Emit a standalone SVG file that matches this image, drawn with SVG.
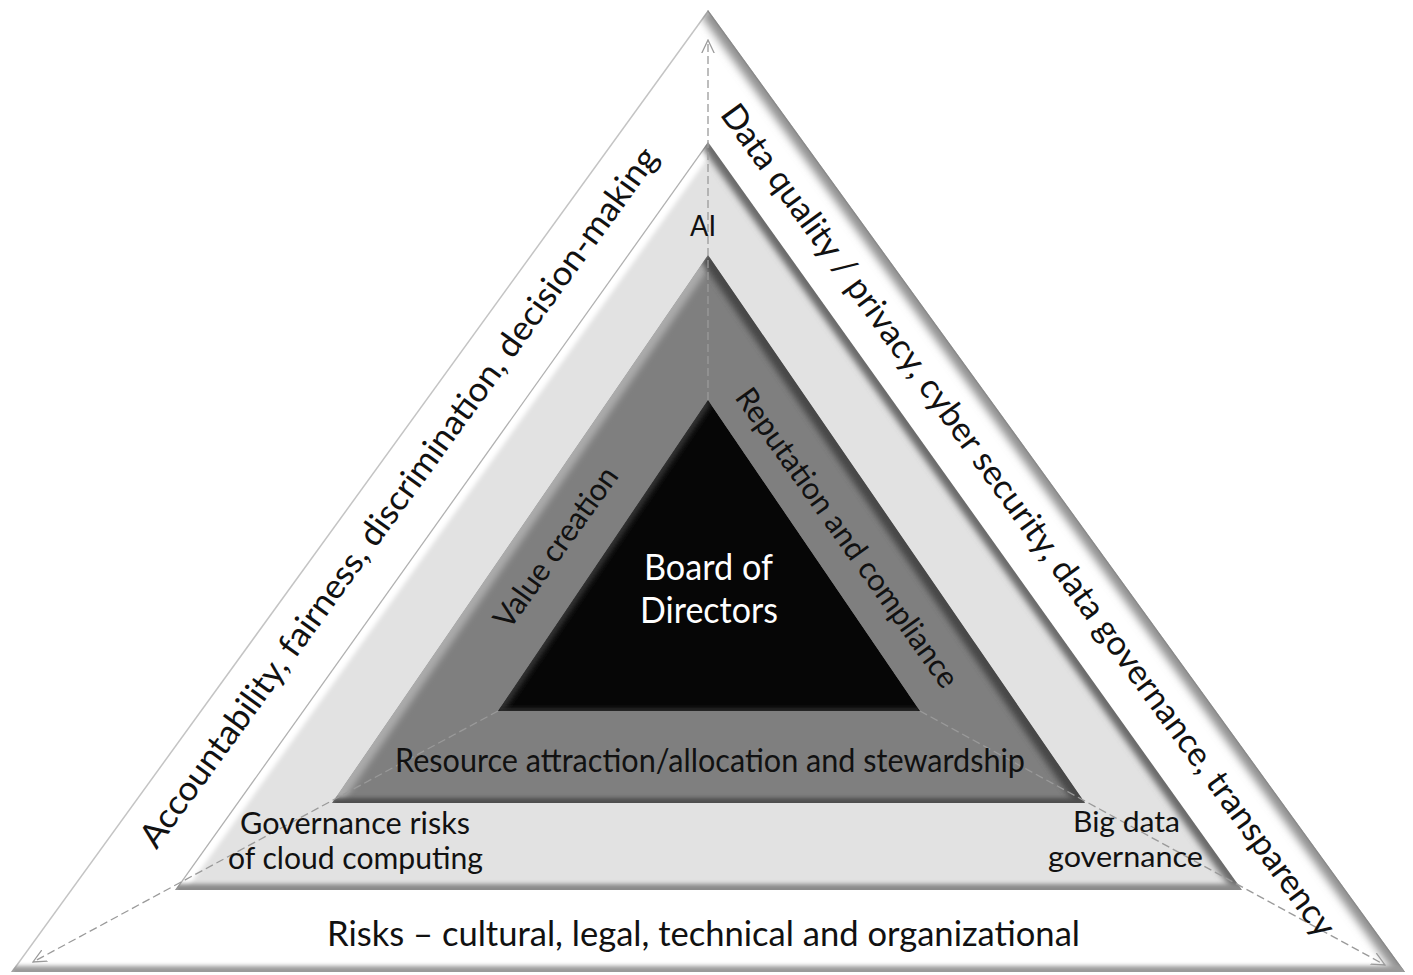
<svg xmlns="http://www.w3.org/2000/svg" width="1413" height="975" viewBox="0 0 1413 975">
<style>
text{font-family:Lato,"Liberation Sans",sans-serif;fill:#111}
.w{fill:#fff}
.dash{fill:none;stroke:#9a9a9a;stroke-width:1.3;stroke-dasharray:8 4}
</style>
<defs>
<filter id="bl2" filterUnits="userSpaceOnUse" x="0" y="0" width="1413" height="975"><feGaussianBlur stdDeviation="2"/></filter>
<filter id="bl3" filterUnits="userSpaceOnUse" x="0" y="0" width="1413" height="975"><feGaussianBlur stdDeviation="3"/></filter>
<filter id="bl4" filterUnits="userSpaceOnUse" x="0" y="0" width="1413" height="975"><feGaussianBlur stdDeviation="4"/></filter>
<clipPath id="cp1"><polygon points="708,10 11,972 1405,972"/></clipPath>
<clipPath id="cp2"><polygon points="708,142 175,890 1242,890"/></clipPath>
<clipPath id="cp3"><polygon points="708,255 332,803 1085,803"/></clipPath>
<clipPath id="cp4"><polygon points="708,400 498,711 920,711"/></clipPath>
<marker id="arr" viewBox="0 0 10 10" refX="9.5" refY="5" markerWidth="14" markerHeight="14" markerUnits="userSpaceOnUse" orient="auto">
<path d="M0,0.5 L9.5,5 L0,9.5" fill="none" stroke="#9a9a9a" stroke-width="0.9"/>
</marker>
</defs>
<rect width="1413" height="975" fill="#fff"/>

<g id="risks-layer" clip-path="url(#cp1)">
<polygon points="708,10 11,972 1405,972" fill="#fff"/>
<line x1="708" y1="10" x2="11" y2="972" stroke="#c4c4c4" stroke-width="3"/>
<line x1="708" y1="10" x2="1405" y2="972" stroke="#909090" stroke-width="18" filter="url(#bl4)"/>
<line x1="708" y1="10" x2="1405" y2="972" stroke="#8a8a8a" stroke-width="2.5"/>
<line x1="11" y1="972" x2="1405" y2="972" stroke="#9a9a9a" stroke-width="12" filter="url(#bl2)"/>
</g>

<g id="ai-layer" clip-path="url(#cp2)">
<polygon points="708,142 175,890 1242,890" fill="#e2e2e2"/>
<line x1="708" y1="142" x2="175" y2="890" stroke="#ffffff" stroke-width="18" filter="url(#bl2)"/>
<line x1="708" y1="142" x2="175" y2="890" stroke="#b0b0b0" stroke-width="2.5"/>
<line x1="708" y1="142" x2="1242" y2="890" stroke="#6a6a6a" stroke-width="16" filter="url(#bl3)"/>
<line x1="175" y1="890" x2="1242" y2="890" stroke="#8a8a8a" stroke-width="12" filter="url(#bl2)"/>
</g>

<g id="value-layer" clip-path="url(#cp3)">
<polygon points="708,255 332,803 1085,803" fill="#7f7f7f"/>
<line x1="708" y1="255" x2="332" y2="803" stroke="#ababab" stroke-width="16" filter="url(#bl3)"/>
<line x1="708" y1="255" x2="1085" y2="803" stroke="#474747" stroke-width="18" filter="url(#bl3)"/>
<line x1="332" y1="803" x2="1085" y2="803" stroke="#4e4e4e" stroke-width="10" filter="url(#bl2)"/>
</g>

<g id="board" clip-path="url(#cp4)">
<polygon points="708,400 498,711 920,711" fill="#060606"/>
<line x1="708" y1="400" x2="498" y2="711" stroke="#3a3a3a" stroke-width="8" filter="url(#bl3)"/>
<line x1="498" y1="711" x2="920" y2="711" stroke="#2c2c2c" stroke-width="6" filter="url(#bl2)"/>
</g>

<g id="connectors">
<line class="dash" x1="708" y1="400" x2="708" y2="40" marker-end="url(#arr)"/>
<line class="dash" x1="498" y1="711" x2="33" y2="962" marker-end="url(#arr)"/>
<line class="dash" x1="920" y1="711" x2="1385" y2="965" marker-end="url(#arr)"/>
</g>

<g id="label-board">
<text class="w" x="708.5" y="580" font-size="37" text-anchor="middle" textLength="129" lengthAdjust="spacingAndGlyphs">Board of</text>
<text class="w" x="709" y="623" font-size="37" text-anchor="middle" textLength="138" lengthAdjust="spacingAndGlyphs">Directors</text>
</g>
<g id="label-value">
<text transform="translate(564.5,553.5) rotate(-54.5)" font-size="31" text-anchor="middle" textLength="190" lengthAdjust="spacingAndGlyphs">Value creation</text>
</g>
<g id="label-reputation">
<text transform="translate(838.5,544) rotate(54.5)" font-size="31" text-anchor="middle" textLength="360" lengthAdjust="spacingAndGlyphs">Reputation and compliance</text>
</g>
<g id="label-resource">
<text x="710" y="772" font-size="32" text-anchor="middle" textLength="630" lengthAdjust="spacingAndGlyphs">Resource attraction/allocation and stewardship</text>
</g>
<g id="label-ai">
<text x="703" y="236" font-size="29" text-anchor="middle" textLength="26" lengthAdjust="spacingAndGlyphs">AI</text>
</g>
<g id="label-cloud">
<text x="355" y="834" font-size="31" text-anchor="middle" textLength="230" lengthAdjust="spacingAndGlyphs">Governance risks</text>
<text x="355.5" y="869" font-size="31" text-anchor="middle" textLength="255" lengthAdjust="spacingAndGlyphs">of cloud computing</text>
</g>
<g id="label-bigdata">
<text x="1126.5" y="832" font-size="29" text-anchor="middle" textLength="107" lengthAdjust="spacingAndGlyphs">Big data</text>
<text x="1125.5" y="867" font-size="29" text-anchor="middle" textLength="155" lengthAdjust="spacingAndGlyphs">governance</text>
</g>
<g id="label-accountability">
<text transform="translate(408,504) rotate(-54)" font-size="34" text-anchor="middle" textLength="856" lengthAdjust="spacingAndGlyphs">Accountability, fairness, discrimination, decision-making</text>
</g>
<g id="label-data">
<text transform="translate(1019,527) rotate(54)" font-size="34" text-anchor="middle" textLength="1020" lengthAdjust="spacingAndGlyphs">Data quality / privacy, cyber security, data governance, transparency</text>
</g>
<g id="label-risks">
<text x="703.5" y="946" font-size="34" text-anchor="middle" textLength="753" lengthAdjust="spacingAndGlyphs">Risks – cultural, legal, technical and organizational</text>
</g>
</svg>
